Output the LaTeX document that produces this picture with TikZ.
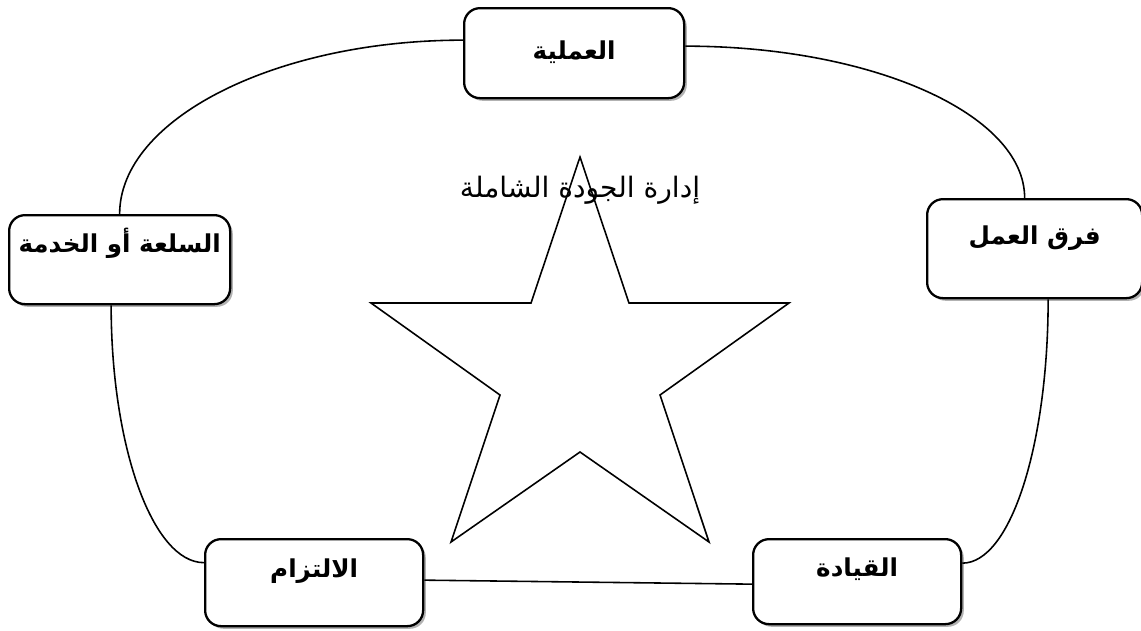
\documentclass[tikz,border=0pt]{standalone}
\usepackage{fontspec}
\newfontfamily\arabicfont[Script=Arabic]{DejaVu Sans}
\TeXXeTstate=1
\usetikzlibrary{shadows}
\usetikzlibrary{positioning}
\tikzstyle{element}=[draw, line width=1.3pt, rounded corners=9pt, fill=white, anchor=north west, inner sep=0pt, font=\arabicfont\bfseries\fontsize{14}{17}\selectfont, drop shadow={shadow xshift=1.5pt, shadow yshift=-1.5pt, fill=black!30, opacity=1}]
\tikzstyle{link}=[line width=0.9pt]

\begin{document}
\begin{tikzpicture}

   \useasboundingbox (0,0) rectangle (22.82,-12.6);

    \foreach \pos/\name/\w/\h/\d/\txt in {{(9.26,-0.14)/proc/4.4cm/1.02cm/0.78cm/العملية}, {(0.16,-4.28)/prod/4.42cm/0.74cm/1.04cm/السلعة أو الخدمة}, {(18.52,-3.96)/team/4.3cm/0.9cm/1.08cm/فرق العمل}, {(4.08,-10.76)/commit/4.36cm/0.76cm/0.98cm/الالتزام}, {(15.04,-10.76)/lead/4.16cm/0.74cm/0.96cm/القيادة}}
        \node[element, minimum width=\w, text height=\h, text depth=\d] (\name) at \pos {\beginR\txt\endR};

    \node[font=\arabicfont\fontsize{16}{19}\selectfont] (title) at (11.6,-3.8) {\beginR إدارة الجودة الشاملة\endR};

    % star
    \draw[line width=0.9pt] (11.6,-3.14) -- (12.58,-6.06) -- (15.78,-6.06) -- (13.2,-7.9) -- (14.18,-10.84) -- (11.6,-9.04) -- (9.02,-10.84) -- (10.0,-7.9) -- (7.42,-6.06) -- (10.62,-6.06) -- cycle;

    \draw[link] ([yshift=0.26cm]proc.west) to[out=180, in=90, out looseness=1.25, in looseness=0.63] (prod.north);
    \draw[link] ([yshift=0.14cm]proc.east) to[out=0, in=90, out looseness=1.28, in looseness=0.58] ([xshift=-0.2cm]team.north);
    \draw[link] ([xshift=0.27cm]team.south) to[out=-90, in=0, out looseness=1.33, in looseness=0.45] ([yshift=0.37cm]lead.east);
    \draw[link] ([xshift=-0.17cm]prod.south) to[out=-90, in=180, out looseness=1.32, in looseness=0.48] ([yshift=0.4cm]commit.west);
    \draw[link] ([yshift=0.05cm]commit.east) -- ([yshift=-0.05cm]lead.west);

\end{tikzpicture}
\end{document}
